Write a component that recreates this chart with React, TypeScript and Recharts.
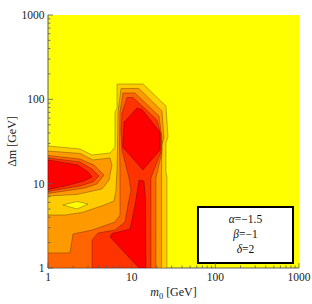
import React from 'react';
import { ScatterChart, Scatter, XAxis, YAxis, CartesianGrid, ReferenceArea, Label } from 'recharts';

const CHART_W = 312;
const CHART_H = 304;

const majorTicks = [1, 10, 100, 1000];
const minorTicks = [2, 3, 4, 5, 6, 7, 8, 9, 20, 30, 40, 50, 60, 70, 80, 90, 200, 300, 400, 500, 600, 700, 800, 900];
const allTicks = [...majorTicks, ...minorTicks].sort((a, b) => a - b);

// contour fills, lowest level to highest
const yellow = '#ffff00';
const gold = '#ffcc00';
const orange = '#ff9900';
const darkOrange = '#ff6600';
const redOrange = '#ff3300';
const red = '#ff0000';

// region outlines as [m0, Δm] in GeV
const level1 = [[1, 28.0], [2.41, 25.8], [3.36, 21.9], [5.51, 23.1], [6.32, 27.2], [6.32, 70.8], [6.68, 78.9], [6.68, 152], [13.7, 152], [25.7, 83.4], [27.2, 35.8], [25.7, 30.4], [25.7, 13.75], [26.4, 12.0], [26.4, 1], [1, 1]];
const yellowHole = [[1.51, 5.59], [2.22, 6.15], [3.01, 5.74], [2.22, 5.01]];
const level2Left = [[1, 24.4], [2.41, 22.8], [3.45, 19.1], [5.51, 20.2], [5.82, 16.65], [5.36, 11.05], [4.42, 8.65], [2.22, 7.44], [1, 7.14]];
const level2Main = [[7.46, 134.5], [12.2, 134.5], [23.0, 72.7], [24.3, 34.8], [23.0, 28.7], [22.7, 13.75], [22.7, 1], [1, 1], [1, 4.25], [1.6, 4.25], [2.55, 4.55], [4.54, 5.51], [6.15, 6.23], [6.5, 8.41], [6.68, 14.5], [6.77, 26.5], [6.87, 70.8]];
const level3Left = [[1, 21.6], [2.41, 19.6], [3.55, 16.65], [4.67, 12.67], [3.85, 9.91], [2.77, 8.89], [1.6, 8.19], [1, 7.65]];
const level3Main = [[7.88, 118.9], [10.96, 118.9], [21.2, 63.5], [23.0, 34.8], [23.0, 23.75], [19.5, 11.67], [19.5, 1], [1, 1], [1, 1.51], [1.83, 1.51], [1.99, 2.53], [3.36, 2.82], [6.32, 3.51], [7.25, 4.25], [7.25, 7.34], [7.25, 14.5], [7.15, 28.7], [7.25, 70.8]];
const level4Left = [[1, 20.2], [2.41, 18.1], [3.36, 14.9], [4.07, 12.3], [3.45, 10.5], [2.41, 9.39], [1, 8.08]];
const level4Main = [[8.8, 105.1], [10.37, 105.1], [20.1, 56.9], [22.4, 37.8], [22.4, 23.75], [17.0, 11.67], [17.0, 1], [3.36, 1], [3.36, 2.15], [3.96, 2.6], [6.32, 2.82], [8.32, 3.51], [9.04, 5.59], [9.82, 8.41], [9.29, 11.67], [7.66, 25.07], [7.46, 43.3], [7.66, 68.9]];
const level5Upper = [[8.1, 53.9], [11.58, 78.9], [13.29, 75.8], [21.8, 41.0], [21.8, 25.07], [13.66, 14.52], [7.77, 27.2]];
const level5Left = [[1, 19.1], [2.28, 16.65], [3.01, 13.75], [3.36, 12.0], [2.69, 10.76], [1.6, 9.39], [1, 8.53]];
const level5Lower = [[12.24, 11.05], [14.04, 10.76], [14.63, 6.4], [14.84, 1], [12.24, 1], [5.51, 2.33], [5.82, 2.57], [9.55, 2.9], [10.96, 5.59]];

// parameter box corners (GeV) and its text
const boxM0 = [62, 848];
const boxDm = [1.146, 5.29];
const params = [
  { sym: 'α', val: '=−1.5' },
  { sym: 'β', val: '=−1' },
  { sym: 'δ', val: '=2' },
];

const regions = [
  { data: level1, fill: gold },
  { data: yellowHole, fill: yellow },
  { data: level2Left, fill: orange },
  { data: level2Main, fill: orange },
  { data: level3Left, fill: darkOrange },
  { data: level3Main, fill: darkOrange },
  { data: level4Left, fill: redOrange },
  { data: level4Main, fill: redOrange },
  { data: level5Upper, fill: red },
  { data: level5Left, fill: red },
  { data: level5Lower, fill: red },
];

const FONT = "'Liberation Serif', 'Times New Roman', serif";
const frame = '#5c5c5c';
const textColor = '#222';

const polygonLine = (fill: string) => (p: any) => (
  <polygon
    points={(p.points || []).map((q: any) => `${q.x},${q.y}`).join(' ')}
    fill={fill}
    stroke="#000"
    strokeOpacity={0.35}
    strokeWidth={0.8}
    strokeLinejoin="round"
  />
);

const noDot = () => <g />;

const tickLen = (v: number) => (majorTicks.includes(v) ? 5 : 2.5);

const BottomTick = ({ x, y, payload }: any) => (
  <g>
    <line x1={x} x2={x} y1={y} y2={y - tickLen(payload.value)} stroke={frame} strokeWidth={0.8} />
    {majorTicks.includes(payload.value) && (
      <text x={x} y={y + 12.5} textAnchor="middle" fontSize={11.5} fontFamily={FONT} fill={textColor}>
        {payload.value}
      </text>
    )}
  </g>
);

const TopTick = ({ x, y, payload }: any) => (
  <line x1={x} x2={x} y1={y} y2={y + tickLen(payload.value)} stroke={frame} strokeWidth={0.8} />
);

const LeftTick = ({ x, y, payload }: any) => (
  <g>
    <line x1={x} x2={x + tickLen(payload.value)} y1={y} y2={y} stroke={frame} strokeWidth={0.8} />
    {majorTicks.includes(payload.value) && (
      <text x={x - 3.5} y={y + 4} textAnchor="end" fontSize={11.5} fontFamily={FONT} fill={textColor}>
        {payload.value}
      </text>
    )}
  </g>
);

const RightTick = ({ x, y, payload }: any) => (
  <line x1={x} x2={x - tickLen(payload.value)} y1={y} y2={y} stroke={frame} strokeWidth={0.8} />
);

const XTitle = ({ viewBox }: any) => {
  const cx = viewBox.x + viewBox.width / 2;
  return (
    <text x={cx} y={viewBox.y + 28} textAnchor="middle" fontSize={12} fontFamily={FONT} fill={textColor}>
      <tspan fontStyle="italic">m</tspan>
      <tspan fontSize={8.5} dy={2.5}>0</tspan>
      <tspan dy={-2.5}> [GeV]</tspan>
    </text>
  );
};

const YTitle = ({ viewBox }: any) => {
  const tx = viewBox.x + 16;
  const ty = viewBox.y + viewBox.height / 2;
  return (
    <text x={tx} y={ty} transform={`rotate(-90 ${tx} ${ty})`} textAnchor="middle" fontSize={12} fontFamily={FONT} fill={textColor}>
      Δm [GeV]
    </text>
  );
};

const BoxText = ({ viewBox }: any) => {
  const cx = viewBox.x + viewBox.width / 2;
  return (
    <g>
      {params.map((p, i) => (
        <text key={p.sym} x={cx} y={viewBox.y + 16 + i * 15} textAnchor="middle" fontSize={11.5} fontFamily={FONT} fill="#111">
          <tspan fontStyle="italic">{p.sym}</tspan>
          <tspan>{p.val}</tspan>
        </text>
      ))}
    </g>
  );
};

const toPoints = (arr: number[][]) => arr.map(([m0, dm]) => ({ m0, dm }));

export default function App() {
  return (
    <div style={{ position: 'absolute', left: 0, top: 0, width: CHART_W, height: CHART_H, background: '#fff' }}>
      <ScatterChart width={CHART_W} height={CHART_H} margin={{ top: 15, right: 13, bottom: 0, left: 0 }}>
        <CartesianGrid horizontal={false} vertical={false} fill={yellow} fillOpacity={1} />
        {regions.map((r, i) => (
          <Scatter
            key={i}
            data={toPoints(r.data)}
            line={polygonLine(r.fill)}
            lineType="joint"
            shape={noDot}
            legendType="none"
            isAnimationActive={false}
          />
        ))}
        <ReferenceArea
          x1={boxM0[0]}
          x2={boxM0[1]}
          y1={boxDm[0]}
          y2={boxDm[1]}
          fill="#fff"
          fillOpacity={1}
          stroke="#000"
          strokeWidth={2}
          label={BoxText}
        />
        <XAxis
          dataKey="m0"
          type="number"
          scale="log"
          domain={[1, 1000]}
          allowDataOverflow
          ticks={allTicks}
          interval={0}
          tickSize={0}
          tickMargin={0}
          tickLine={false}
          tick={BottomTick}
          height={36}
          axisLine={{ stroke: frame, strokeWidth: 1 }}
        >
          <Label content={XTitle} />
        </XAxis>
        <XAxis
          xAxisId="top"
          orientation="top"
          dataKey="m0"
          type="number"
          scale="log"
          domain={[1, 1000]}
          allowDataOverflow
          ticks={allTicks}
          interval={0}
          tickSize={0}
          tickMargin={0}
          tickLine={false}
          tick={TopTick}
          height={0}
          axisLine={{ stroke: frame, strokeWidth: 1 }}
        />
        <YAxis
          dataKey="dm"
          type="number"
          scale="log"
          domain={[1, 1000]}
          allowDataOverflow
          ticks={allTicks}
          interval={0}
          tickSize={0}
          tickMargin={0}
          tickLine={false}
          tick={LeftTick}
          width={48}
          axisLine={{ stroke: frame, strokeWidth: 1 }}
        >
          <Label content={YTitle} />
        </YAxis>
        <YAxis
          yAxisId="right"
          orientation="right"
          dataKey="dm"
          type="number"
          scale="log"
          domain={[1, 1000]}
          allowDataOverflow
          ticks={allTicks}
          interval={0}
          tickSize={0}
          tickMargin={0}
          tickLine={false}
          tick={RightTick}
          width={0}
          axisLine={{ stroke: frame, strokeWidth: 1 }}
        />
      </ScatterChart>
    </div>
  );
}
